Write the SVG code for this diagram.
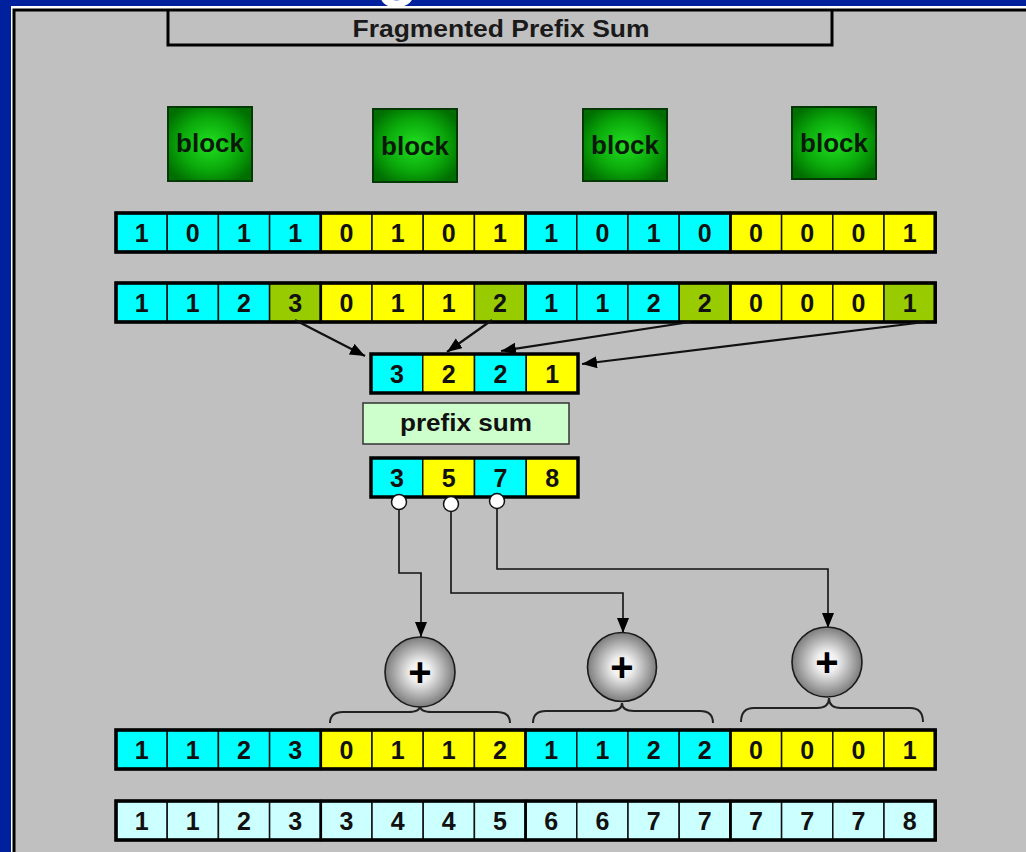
<svg xmlns="http://www.w3.org/2000/svg" width="1026" height="852" viewBox="0 0 1026 852">
<defs>
<style>
.c{fill:#00ffff}.y{fill:#ffff00}.g{fill:#99cc00}.l{fill:#ccffff}
.cell{stroke:#111;stroke-width:1.5}
.outer{fill:none;stroke:#000;stroke-width:3.5}
.grp{fill:none;stroke:#000;stroke-width:2.5}
.d{font-family:"Liberation Sans",Arial,sans-serif;font-weight:bold;font-size:25px;fill:#111;text-anchor:middle}
.blk{fill:url(#gr);stroke:#043804;stroke-width:2}
.bt{font-family:"Liberation Sans",Arial,sans-serif;font-weight:bold;font-size:26px;fill:#0a1a0a;text-anchor:middle}
.conn{fill:none;stroke:#111;stroke-width:1.6}
.arr{fill:none;stroke:#111;stroke-width:2.2}
.brace{fill:none;stroke:#222;stroke-width:2}
.plus{fill:url(#sp);stroke:#1a1a1a;stroke-width:1.6}
.pt{font-family:"Liberation Sans",Arial,sans-serif;font-weight:bold;font-size:40px;fill:#000;text-anchor:middle}
</style>
<radialGradient id="gr" cx="0.5" cy="0.5" r="0.6">
<stop offset="0" stop-color="#22e022"/><stop offset="0.6" stop-color="#0aa80a"/><stop offset="1" stop-color="#006e00"/>
</radialGradient>
<radialGradient id="sp" cx="0.5" cy="0.5" r="0.5">
<stop offset="0" stop-color="#ffffff"/><stop offset="0.3" stop-color="#eeeeee"/><stop offset="1" stop-color="#7c7c7c"/>
</radialGradient>
<marker id="ah" markerUnits="userSpaceOnUse" markerWidth="16" markerHeight="14" refX="15" refY="6" orient="auto">
<path d="M0,0 L15,6 L0,12 Z" fill="#000"/>
</marker>
</defs>

<rect x="0" y="0" width="1026" height="852" fill="#00219e"/>
<text x="376" y="-8" font-family="Liberation Sans,Arial,sans-serif" font-weight="bold" font-size="70" fill="#ffffff">g</text>
<rect x="11" y="6" width="1030" height="860" fill="#ffffff"/>
<rect x="14" y="10" width="1030" height="860" fill="#c0c0c0" stroke="#000" stroke-width="3"/>

<g id="title">
<path d="M168,10 V45 H832 V10" fill="none" stroke="#000" stroke-width="3"/>
<text x="501" y="37" font-family="Liberation Sans,Arial,sans-serif" font-weight="bold" font-size="24" fill="#1a1a1a" text-anchor="middle" textLength="297" lengthAdjust="spacingAndGlyphs">Fragmented Prefix Sum</text>
</g>

<g id="block1"><rect class="blk" x="168" y="107" width="84" height="74"/><text class="bt" x="210" y="152">block</text></g>
<g id="block2"><rect class="blk" x="373" y="109" width="84" height="73"/><text class="bt" x="415" y="155">block</text></g>
<g id="block3"><rect class="blk" x="583" y="109" width="84" height="72"/><text class="bt" x="625" y="154">block</text></g>
<g id="block4"><rect class="blk" x="792" y="107" width="84" height="72"/><text class="bt" x="834" y="152">block</text></g>

<g id="flags">
<rect class="cell c" x="116" y="213" width="51.2" height="39"/><rect class="cell c" x="167.2" y="213" width="51.2" height="39"/><rect class="cell c" x="218.4" y="213" width="51.2" height="39"/><rect class="cell c" x="269.6" y="213" width="51.2" height="39"/>
<rect class="cell y" x="320.8" y="213" width="51.2" height="39"/><rect class="cell y" x="372" y="213" width="51.2" height="39"/><rect class="cell y" x="423.2" y="213" width="51.2" height="39"/><rect class="cell y" x="474.4" y="213" width="51.2" height="39"/>
<rect class="cell c" x="525.6" y="213" width="51.2" height="39"/><rect class="cell c" x="576.8" y="213" width="51.2" height="39"/><rect class="cell c" x="628" y="213" width="51.2" height="39"/><rect class="cell c" x="679.2" y="213" width="51.2" height="39"/>
<rect class="cell y" x="730.4" y="213" width="51.2" height="39"/><rect class="cell y" x="781.6" y="213" width="51.2" height="39"/><rect class="cell y" x="832.8" y="213" width="51.2" height="39"/><rect class="cell y" x="884" y="213" width="51.2" height="39"/>
<rect class="grp" x="116" y="213" width="204.8" height="39"/><rect class="grp" x="320.8" y="213" width="204.8" height="39"/><rect class="grp" x="525.6" y="213" width="204.8" height="39"/><rect class="grp" x="730.4" y="213" width="204.8" height="39"/>
<rect class="outer" x="116" y="213" width="819.2" height="39"/>
<text class="d" x="141.6" y="242">1</text><text class="d" x="192.8" y="242">0</text><text class="d" x="244" y="242">1</text><text class="d" x="295.2" y="242">1</text>
<text class="d" x="346.4" y="242">0</text><text class="d" x="397.6" y="242">1</text><text class="d" x="448.8" y="242">0</text><text class="d" x="500" y="242">1</text>
<text class="d" x="551.2" y="242">1</text><text class="d" x="602.4" y="242">0</text><text class="d" x="653.6" y="242">1</text><text class="d" x="704.8" y="242">0</text>
<text class="d" x="756" y="242">0</text><text class="d" x="807.2" y="242">0</text><text class="d" x="858.4" y="242">0</text><text class="d" x="909.6" y="242">1</text>
</g>

<g id="local-scan">
<rect class="cell c" x="116" y="283" width="51.2" height="39"/><rect class="cell c" x="167.2" y="283" width="51.2" height="39"/><rect class="cell c" x="218.4" y="283" width="51.2" height="39"/><rect class="cell g" x="269.6" y="283" width="51.2" height="39"/>
<rect class="cell y" x="320.8" y="283" width="51.2" height="39"/><rect class="cell y" x="372" y="283" width="51.2" height="39"/><rect class="cell y" x="423.2" y="283" width="51.2" height="39"/><rect class="cell g" x="474.4" y="283" width="51.2" height="39"/>
<rect class="cell c" x="525.6" y="283" width="51.2" height="39"/><rect class="cell c" x="576.8" y="283" width="51.2" height="39"/><rect class="cell c" x="628" y="283" width="51.2" height="39"/><rect class="cell g" x="679.2" y="283" width="51.2" height="39"/>
<rect class="cell y" x="730.4" y="283" width="51.2" height="39"/><rect class="cell y" x="781.6" y="283" width="51.2" height="39"/><rect class="cell y" x="832.8" y="283" width="51.2" height="39"/><rect class="cell g" x="884" y="283" width="51.2" height="39"/>
<rect class="grp" x="116" y="283" width="204.8" height="39"/><rect class="grp" x="320.8" y="283" width="204.8" height="39"/><rect class="grp" x="525.6" y="283" width="204.8" height="39"/><rect class="grp" x="730.4" y="283" width="204.8" height="39"/>
<rect class="outer" x="116" y="283" width="819.2" height="39"/>
<text class="d" x="141.6" y="312">1</text><text class="d" x="192.8" y="312">1</text><text class="d" x="244" y="312">2</text><text class="d" x="295.2" y="312">3</text>
<text class="d" x="346.4" y="312">0</text><text class="d" x="397.6" y="312">1</text><text class="d" x="448.8" y="312">1</text><text class="d" x="500" y="312">2</text>
<text class="d" x="551.2" y="312">1</text><text class="d" x="602.4" y="312">1</text><text class="d" x="653.6" y="312">2</text><text class="d" x="704.8" y="312">2</text>
<text class="d" x="756" y="312">0</text><text class="d" x="807.2" y="312">0</text><text class="d" x="858.4" y="312">0</text><text class="d" x="909.6" y="312">1</text>
</g>

<g id="block-sums">
<rect class="cell c" x="371" y="354" width="51.75" height="39"/><rect class="cell y" x="422.75" y="354" width="51.75" height="39"/><rect class="cell c" x="474.5" y="354" width="51.75" height="39"/><rect class="cell y" x="526.25" y="354" width="51.75" height="39"/>
<rect class="outer" x="371" y="354" width="207" height="39"/>
<text class="d" x="397" y="383">3</text><text class="d" x="448.6" y="383">2</text><text class="d" x="500.4" y="383">2</text><text class="d" x="552.1" y="383">1</text>
</g>

<g id="prefix-sum">
<rect x="363" y="403" width="206" height="41" fill="#ccffcc" stroke="#333" stroke-width="1.5"/>
<text x="466" y="431" font-family="Liberation Sans,Arial,sans-serif" font-weight="bold" font-size="23" fill="#111" text-anchor="middle" textLength="132" lengthAdjust="spacingAndGlyphs">prefix sum</text>
</g>

<g id="block-offsets">
<rect class="cell c" x="371" y="458" width="51.75" height="39"/><rect class="cell y" x="422.75" y="458" width="51.75" height="39"/><rect class="cell c" x="474.5" y="458" width="51.75" height="39"/><rect class="cell y" x="526.25" y="458" width="51.75" height="39"/>
<rect class="outer" x="371" y="458" width="207" height="39"/>
<text class="d" x="397" y="487">3</text><text class="d" x="448.6" y="487">5</text><text class="d" x="500.4" y="487">7</text><text class="d" x="552.1" y="487">8</text>
</g>

<g id="connectors">
<line class="arr" x1="295" y1="320" x2="365" y2="356" marker-end="url(#ah)"/>
<line class="arr" x1="492" y1="320" x2="447" y2="352" marker-end="url(#ah)"/>
<line class="arr" x1="690" y1="322" x2="501" y2="351" marker-end="url(#ah)"/>
<line class="arr" x1="925" y1="322" x2="582" y2="364" marker-end="url(#ah)"/>
<path class="conn" d="M399,509 V573 H421 V637" marker-end="url(#ah)"/>
<path class="conn" d="M451,511 V593 H623 V633" marker-end="url(#ah)"/>
<path class="conn" d="M497,508 V569 H828 V628" marker-end="url(#ah)"/>
<circle cx="399" cy="502" r="7.5" fill="#fff" stroke="#111" stroke-width="1.5"/>
<circle cx="451" cy="504" r="7.5" fill="#fff" stroke="#111" stroke-width="1.5"/>
<circle cx="497" cy="501" r="7.5" fill="#fff" stroke="#111" stroke-width="1.5"/>
<path class="brace" d="M330,723 Q330,712 343,712 L408,712 Q420,712 420,706 Q420,712 432,712 L497,712 Q510,712 510,723"/>
<path class="brace" d="M533,723 Q533,711 546,711 L610,711 Q622,711 622,703 Q622,711 634,711 L700,711 Q713,711 713,723"/>
<path class="brace" d="M741,722 Q741,708 754,708 L817,708 Q829,708 829,698 Q829,708 841,708 L910,708 Q923,708 923,722"/>
</g>

<g id="add1"><circle class="plus" cx="420" cy="672" r="35"/><text class="pt" x="420" y="686">+</text></g>
<g id="add2"><circle class="plus" cx="622" cy="667" r="34.5"/><text class="pt" x="622" y="681">+</text></g>
<g id="add3"><circle class="plus" cx="827" cy="662" r="35"/><text class="pt" x="827" y="676">+</text></g>

<g id="local-scan-2">
<rect class="cell c" x="116" y="730" width="51.2" height="39"/><rect class="cell c" x="167.2" y="730" width="51.2" height="39"/><rect class="cell c" x="218.4" y="730" width="51.2" height="39"/><rect class="cell c" x="269.6" y="730" width="51.2" height="39"/>
<rect class="cell y" x="320.8" y="730" width="51.2" height="39"/><rect class="cell y" x="372" y="730" width="51.2" height="39"/><rect class="cell y" x="423.2" y="730" width="51.2" height="39"/><rect class="cell y" x="474.4" y="730" width="51.2" height="39"/>
<rect class="cell c" x="525.6" y="730" width="51.2" height="39"/><rect class="cell c" x="576.8" y="730" width="51.2" height="39"/><rect class="cell c" x="628" y="730" width="51.2" height="39"/><rect class="cell c" x="679.2" y="730" width="51.2" height="39"/>
<rect class="cell y" x="730.4" y="730" width="51.2" height="39"/><rect class="cell y" x="781.6" y="730" width="51.2" height="39"/><rect class="cell y" x="832.8" y="730" width="51.2" height="39"/><rect class="cell y" x="884" y="730" width="51.2" height="39"/>
<rect class="grp" x="116" y="730" width="204.8" height="39"/><rect class="grp" x="320.8" y="730" width="204.8" height="39"/><rect class="grp" x="525.6" y="730" width="204.8" height="39"/><rect class="grp" x="730.4" y="730" width="204.8" height="39"/>
<rect class="outer" x="116" y="730" width="819.2" height="39"/>
<text class="d" x="141.6" y="759">1</text><text class="d" x="192.8" y="759">1</text><text class="d" x="244" y="759">2</text><text class="d" x="295.2" y="759">3</text>
<text class="d" x="346.4" y="759">0</text><text class="d" x="397.6" y="759">1</text><text class="d" x="448.8" y="759">1</text><text class="d" x="500" y="759">2</text>
<text class="d" x="551.2" y="759">1</text><text class="d" x="602.4" y="759">1</text><text class="d" x="653.6" y="759">2</text><text class="d" x="704.8" y="759">2</text>
<text class="d" x="756" y="759">0</text><text class="d" x="807.2" y="759">0</text><text class="d" x="858.4" y="759">0</text><text class="d" x="909.6" y="759">1</text>
</g>

<g id="result">
<rect class="cell l" x="116" y="801" width="51.2" height="39"/><rect class="cell l" x="167.2" y="801" width="51.2" height="39"/><rect class="cell l" x="218.4" y="801" width="51.2" height="39"/><rect class="cell l" x="269.6" y="801" width="51.2" height="39"/>
<rect class="cell l" x="320.8" y="801" width="51.2" height="39"/><rect class="cell l" x="372" y="801" width="51.2" height="39"/><rect class="cell l" x="423.2" y="801" width="51.2" height="39"/><rect class="cell l" x="474.4" y="801" width="51.2" height="39"/>
<rect class="cell l" x="525.6" y="801" width="51.2" height="39"/><rect class="cell l" x="576.8" y="801" width="51.2" height="39"/><rect class="cell l" x="628" y="801" width="51.2" height="39"/><rect class="cell l" x="679.2" y="801" width="51.2" height="39"/>
<rect class="cell l" x="730.4" y="801" width="51.2" height="39"/><rect class="cell l" x="781.6" y="801" width="51.2" height="39"/><rect class="cell l" x="832.8" y="801" width="51.2" height="39"/><rect class="cell l" x="884" y="801" width="51.2" height="39"/>
<rect class="grp" x="116" y="801" width="204.8" height="39"/><rect class="grp" x="320.8" y="801" width="204.8" height="39"/><rect class="grp" x="525.6" y="801" width="204.8" height="39"/><rect class="grp" x="730.4" y="801" width="204.8" height="39"/>
<rect class="outer" x="116" y="801" width="819.2" height="39"/>
<text class="d" x="141.6" y="830">1</text><text class="d" x="192.8" y="830">1</text><text class="d" x="244" y="830">2</text><text class="d" x="295.2" y="830">3</text>
<text class="d" x="346.4" y="830">3</text><text class="d" x="397.6" y="830">4</text><text class="d" x="448.8" y="830">4</text><text class="d" x="500" y="830">5</text>
<text class="d" x="551.2" y="830">6</text><text class="d" x="602.4" y="830">6</text><text class="d" x="653.6" y="830">7</text><text class="d" x="704.8" y="830">7</text>
<text class="d" x="756" y="830">7</text><text class="d" x="807.2" y="830">7</text><text class="d" x="858.4" y="830">7</text><text class="d" x="909.6" y="830">8</text>
</g>
</svg>
